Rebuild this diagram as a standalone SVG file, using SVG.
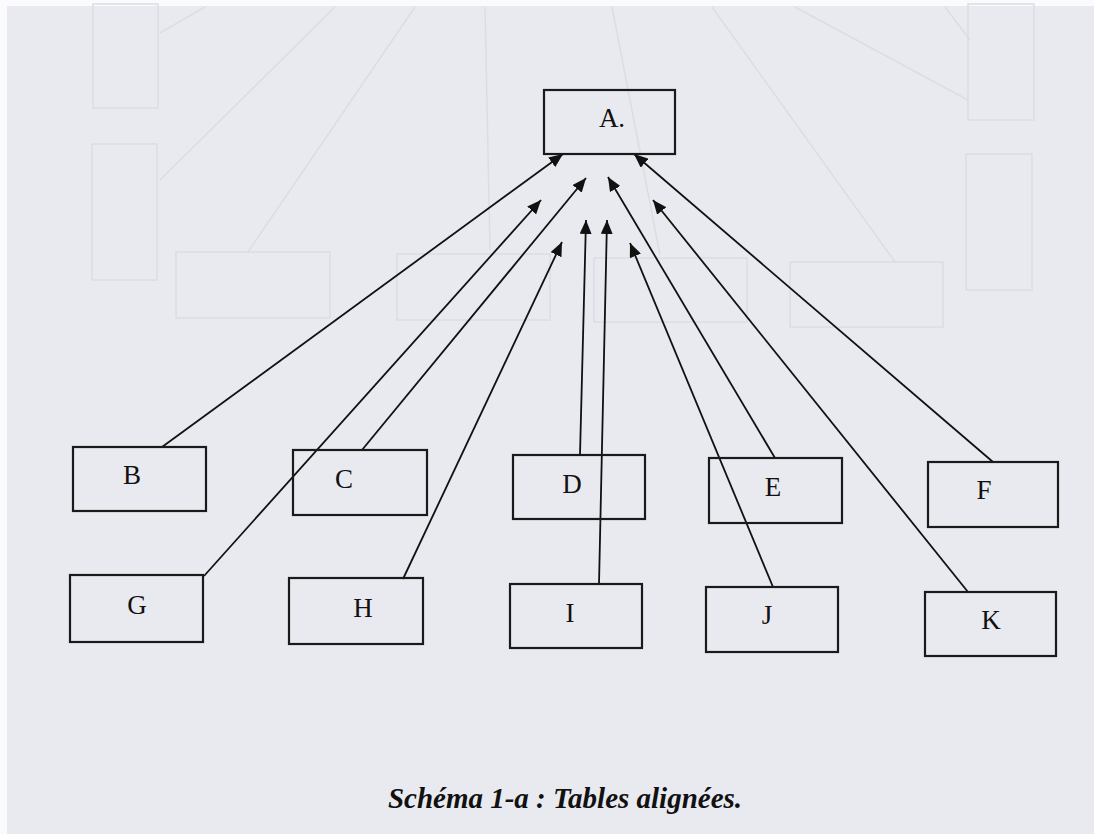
<svg xmlns="http://www.w3.org/2000/svg" width="1094" height="834" viewBox="0 0 1094 834">
<defs>
<style>
.box{fill:none;stroke:#1a1a1a;stroke-width:2.2}
.lbl{font-family:"Liberation Serif","Times New Roman",serif;font-size:27px;fill:#111;text-anchor:middle}
.edge{stroke:#111;stroke-width:1.8;fill:none;marker-end:url(#ah)}
.ghost{fill:none;stroke:#dcdde3;stroke-width:1.5}
.cap{font-family:"Liberation Serif","Times New Roman",serif;font-size:29px;font-weight:bold;font-style:italic;fill:#111;text-anchor:middle}
</style>
<marker id="ah" markerUnits="userSpaceOnUse" markerWidth="15" markerHeight="12" refX="14" refY="6" orient="auto">
<path d="M0,0 L14,6 L0,12 z" fill="#111"/>
</marker>
</defs>
<rect x="0" y="0" width="1094" height="834" fill="#fbfbfd"/>
<rect x="7" y="6" width="1087" height="828" fill="#e9eaf0"/>
<g id="bleed-through">
<rect class="ghost" x="93" y="4" width="65" height="104"/>
<rect class="ghost" x="92" y="144" width="65" height="136"/>
<rect class="ghost" x="176" y="252" width="154" height="66"/>
<rect class="ghost" x="397" y="254" width="153" height="66"/>
<rect class="ghost" x="594" y="258" width="153" height="64"/>
<rect class="ghost" x="790" y="262" width="153" height="65"/>
<rect class="ghost" x="968" y="4" width="66" height="116"/>
<rect class="ghost" x="966" y="154" width="66" height="136"/>
<path class="ghost" d="M160,33 L205,7 M160,180 L335,7 M248,252 L415,7 M490,250 L485,7 M660,255 L612,7 M895,262 L712,7 M968,100 L795,7 M970,40 L945,7"/>
</g>
<g id="connectors">
<line class="edge" x1="162" y1="447" x2="563" y2="154"/>
<line class="edge" x1="362" y1="450" x2="586" y2="178"/>
<line class="edge" x1="204" y1="576" x2="541" y2="200"/>
<line class="edge" x1="403" y1="579" x2="562" y2="242"/>
<line class="edge" x1="580" y1="455" x2="586" y2="220"/>
<line class="edge" x1="599" y1="584" x2="607" y2="220"/>
<line class="edge" x1="773" y1="587" x2="630" y2="243"/>
<line class="edge" x1="775" y1="458" x2="608" y2="177"/>
<line class="edge" x1="968" y1="592" x2="653" y2="200"/>
<line class="edge" x1="993" y1="462" x2="634" y2="154"/>
</g>
<g id="node-A"><rect class="box" x="544" y="90" width="131" height="64"/><text class="lbl" x="612" y="127">A.</text></g>
<g id="node-B"><rect class="box" x="73" y="447" width="133" height="64"/><text class="lbl" x="132" y="484">B</text></g>
<g id="node-C"><rect class="box" x="293" y="450" width="134" height="65"/><text class="lbl" x="344" y="488">C</text></g>
<g id="node-D"><rect class="box" x="513" y="455" width="132" height="64"/><text class="lbl" x="572" y="493">D</text></g>
<g id="node-E"><rect class="box" x="709" y="458" width="133" height="65"/><text class="lbl" x="773" y="496">E</text></g>
<g id="node-F"><rect class="box" x="928" y="462" width="130" height="65"/><text class="lbl" x="984" y="499">F</text></g>
<g id="node-G"><rect class="box" x="70" y="575" width="133" height="67"/><text class="lbl" x="137" y="614">G</text></g>
<g id="node-H"><rect class="box" x="289" y="578" width="134" height="66"/><text class="lbl" x="363" y="617">H</text></g>
<g id="node-I"><rect class="box" x="510" y="584" width="132" height="64"/><text class="lbl" x="570" y="622">I</text></g>
<g id="node-J"><rect class="box" x="706" y="587" width="132" height="65"/><text class="lbl" x="767" y="624">J</text></g>
<g id="node-K"><rect class="box" x="925" y="592" width="131" height="64"/><text class="lbl" x="991" y="629">K</text></g>
<text class="cap" x="565" y="808">Schéma 1-a : Tables alignées.</text>
</svg>
